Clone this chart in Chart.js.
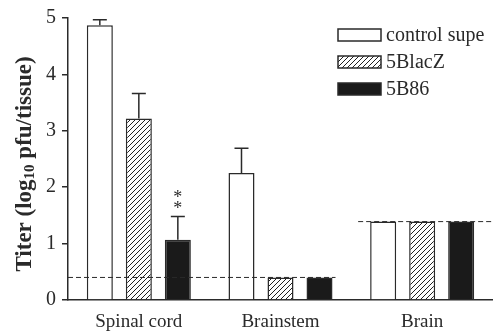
<!DOCTYPE html>
<html>
<head>
<meta charset="utf-8">
<script src="https://cdn.jsdelivr.net/npm/chart.js@4"></script>
<style>
  html, body { margin: 0; padding: 0; background: #fff; }
  #wrap { width: 493px; height: 334px; position: relative; }
</style>
</head>
<body>
<div id="wrap"><canvas id="titerChart"></canvas></div>
<script>
// --- data ---
const tissues = ['Spinal cord', 'Brainstem', 'Brain'];
const groupNames = ['control supe', '5BlacZ', '5B86'];
const controlTiter = [4.87, 2.25, 1.39];
const lacZTiter = [3.22, 0.40, 1.39];
const b86Titer = [1.07, 0.40, 1.39];
const controlSem = [0.10, 0.44, 0];
const lacZSem = [0.44, 0, 0];
const b86Sem = [0.41, 0, 0];
const yTicks = [0, 1, 2, 3, 4, 5];
// detection limits per tissue (dashed lines)
const detectionLimit = [0.40, 0.40, 1.39];
// significance marks: [group index, tissue index, text]
const sigMarks = [[2, 0, '**']];

const INK = '#2a2a2a';
const SERIF = '"Liberation Serif", "Times New Roman", serif';

// diagonal hatch for the 5BlacZ bars
function makeHatch() {
    const n = 5;
    const c = document.createElement('canvas');
    c.width = n; c.height = n;
    const g = c.getContext('2d');
    g.fillStyle = '#fff';
    g.fillRect(0, 0, n, n);
    g.strokeStyle = '#222';
    g.lineWidth = 1;
    g.beginPath();
    g.moveTo(0, n); g.lineTo(n, 0);
    g.moveTo(-1, 1); g.lineTo(1, -1);
    g.moveTo(n - 1, n + 1); g.lineTo(n + 1, n - 1);
    g.stroke();
    return g.createPattern(c, 'repeat');
}
const hatch = makeHatch();

const semByDataset = [controlSem, lacZSem, b86Sem];

// error bars, asterisks, detection-limit lines, axis title and legend
const extras = {
    id: 'extras',
    afterDatasetsDraw(chart) {
        const ctx = chart.ctx;
        const y = chart.scales.y;
        const area = chart.chartArea;

        // error bars (upper half only)
        ctx.save();
        ctx.strokeStyle = INK;
        ctx.lineWidth = 1.5;
        chart.data.datasets.forEach((ds, di) => {
            const meta = chart.getDatasetMeta(di);
            ds.data.forEach((v, i) => {
                const e = semByDataset[di][i];
                if (!e) return;
                const bar = meta.data[i];
                const y0 = y.getPixelForValue(v);
                const y1 = y.getPixelForValue(v + e);
                ctx.beginPath();
                ctx.moveTo(bar.x, y0);
                ctx.lineTo(bar.x, y1);
                ctx.moveTo(bar.x - 7, y1);
                ctx.lineTo(bar.x + 7, y1);
                ctx.stroke();
            });
        });

        // dashed detection limits, merged over neighbouring tissues with the same limit
        ctx.setLineDash([5, 3]);
        ctx.lineWidth = 1;
        const metas = chart.data.datasets.map((d, di) => chart.getDatasetMeta(di));
        let start = 0;
        for (let i = 1; i <= tissues.length; i++) {
            if (i < tissues.length && detectionLimit[i] === detectionLimit[start]) continue;
            const firstBar = metas[0].data[start];
            const lastBar = metas[metas.length - 1].data[i - 1];
            const x0 = start === 0 ? area.left : firstBar.x - firstBar.width / 2 - 12;
            const x1 = i === tissues.length ? area.right : lastBar.x + lastBar.width / 2 + 3;
            const py = y.getPixelForValue(detectionLimit[start]);
            ctx.beginPath();
            ctx.moveTo(x0, py);
            ctx.lineTo(x1, py);
            ctx.stroke();
            start = i;
        }
        ctx.setLineDash([]);

        // significance asterisks
        ctx.fillStyle = INK;
        ctx.font = '18px ' + SERIF;
        ctx.textAlign = 'center';
        ctx.textBaseline = 'middle';
        sigMarks.forEach(([di, i, txt]) => {
            const bar = metas[di].data[i];
            const top = y.getPixelForValue(chart.data.datasets[di].data[i] + semByDataset[di][i]);
            for (let k = 0; k < txt.length; k++) {
                ctx.fillText(txt[k], bar.x, top - 7 - (txt.length - 1 - k) * 11);
            }
        });

        // rotated axis title with subscript
        ctx.translate(23, 164);
        ctx.rotate(-Math.PI / 2);
        ctx.textAlign = 'left';
        ctx.textBaseline = 'alphabetic';
        const parts = [
            ['Titer (log', 'bold 23px ' + SERIF, 8],
            ['10', 'bold 15px ' + SERIF, 11],
            [' pfu/tissue)', 'bold 23px ' + SERIF, 8]
        ];
        let w = 0;
        parts.forEach(p => { ctx.font = p[1]; w += ctx.measureText(p[0]).width; });
        let px = -w / 2;
        parts.forEach(p => {
            ctx.font = p[1];
            ctx.fillText(p[0], px, p[2]);
            px += ctx.measureText(p[0]).width;
        });
        ctx.restore();

        // legend box top right
        ctx.save();
        ctx.font = '20px ' + SERIF;
        ctx.textBaseline = 'middle';
        ctx.textAlign = 'left';
        chart.data.datasets.forEach((ds, di) => {
            const cy = 35 + di * 27;
            ctx.fillStyle = ds.backgroundColor;
            ctx.fillRect(338, cy - 6, 43, 12);
            ctx.strokeStyle = INK;
            ctx.lineWidth = 1.5;
            ctx.strokeRect(338, cy - 6, 43, 12);
            ctx.fillStyle = INK;
            ctx.fillText(ds.label, 386, cy + 1);
        });
        ctx.restore();
    }
};

const barStyle = { borderColor: INK, borderWidth: 1.5, categoryPercentage: 0.826, barPercentage: 0.667 };

new Chart(document.getElementById('titerChart'), {
    type: 'bar',
    data: {
        labels: tissues,
        datasets: [
            Object.assign({ label: groupNames[0], data: controlTiter, backgroundColor: '#ffffff' }, barStyle),
            Object.assign({ label: groupNames[1], data: lacZTiter, backgroundColor: hatch }, barStyle),
            Object.assign({ label: groupNames[2], data: b86Titer, backgroundColor: '#1a1a1a' }, barStyle)
        ]
    },
    options: {
        responsive: true, maintainAspectRatio: false, animation: false,
        layout: { padding: { top: 16, right: 0, left: 0, bottom: 0 } },
        plugins: { legend: { display: false }, tooltip: { enabled: false } },
        scales: {
            x: {
                grid: { drawOnChartArea: false, drawTicks: false },
                border: { display: true, color: INK, width: 1.5 },
                ticks: { color: INK, font: { family: SERIF, size: 19 }, padding: 11 },
                afterFit: s => { s.height = 34; }
            },
            y: {
                min: 0, max: 5,
                afterBuildTicks: s => { s.ticks = yTicks.map(v => ({ value: v })); },
                grid: { drawOnChartArea: false, drawTicks: true, tickLength: 6, color: INK, lineWidth: 1.5 },
                border: { display: true, color: INK, width: 1.5 },
                ticks: { color: INK, font: { family: SERIF, size: 20 }, padding: 6 },
                afterFit: s => { s.width = 68; }
            }
        }
    },
    plugins: [extras]
});
</script>
</body>
</html>
